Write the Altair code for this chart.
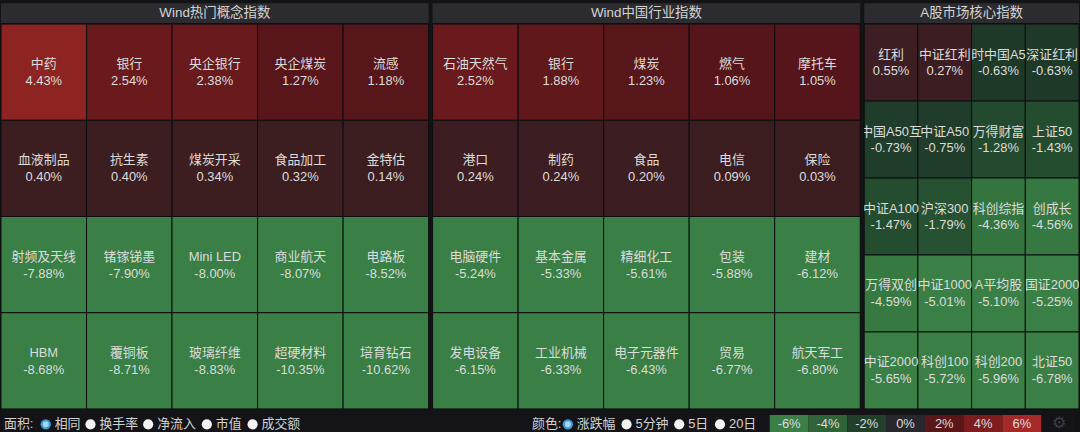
import altair as alt
import pandas as pd

# ---------------- data ----------------
p1_title = "Wind热门概念指数"
p1_names = ["中药", "银行", "央企银行", "央企煤炭", "流感",
            "血液制品", "抗生素", "煤炭开采", "食品加工", "金特估",
            "射频及天线", "锗镓锑墨", "Mini LED", "商业航天", "电路板",
            "HBM", "覆铜板", "玻璃纤维", "超硬材料", "培育钻石"]
p1_vals = [4.43, 2.54, 2.38, 1.27, 1.18,
           0.40, 0.40, 0.34, 0.32, 0.14,
           -7.88, -7.90, -8.00, -8.07, -8.52,
           -8.68, -8.71, -8.83, -10.35, -10.62]

p2_title = "Wind中国行业指数"
p2_names = ["石油天然气", "银行", "煤炭", "燃气", "摩托车",
            "港口", "制药", "食品", "电信", "保险",
            "电脑硬件", "基本金属", "精细化工", "包装", "建材",
            "发电设备", "工业机械", "电子元器件", "贸易", "航天军工"]
p2_vals = [2.52, 1.88, 1.23, 1.06, 1.05,
           0.24, 0.24, 0.20, 0.09, 0.03,
           -5.24, -5.33, -5.61, -5.88, -6.12,
           -6.15, -6.33, -6.43, -6.77, -6.80]

p3_title = "A股市场核心指数"
p3_names = ["红利", "中证红利", "时中国A5", "深证红利",
            "中国A50互", "中证A50", "万得财富", "上证50",
            "中证A100", "沪深300", "科创综指", "创成长",
            "万得双创", "中证1000", "A平均股", "国证2000",
            "中证2000", "科创100", "科创200", "北证50"]
p3_vals = [0.55, 0.27, -0.63, -0.63,
           -0.73, -0.75, -1.28, -1.43,
           -1.47, -1.79, -4.36, -4.56,
           -4.59, -5.01, -5.10, -5.25,
           -5.65, -5.72, -5.96, -6.78]

area_label = "面积:"
area_opts = ["相同", "换手率", "净流入", "市值", "成交额"]
color_label = "颜色:"
color_opts = ["涨跌幅", "5分钟", "5日", "20日"]
legend_labels = ["-6%", "-4%", "-2%", "0%", "2%", "4%", "6%"]

# ---------------- styles / layout ----------------
FONT = "Liberation Sans, Noto Sans CJK SC, sans-serif"
TXT = "#dcdcdc"
BG = "#131316"
HEADER_FILL = "#2c2c30"
legend_colors = ["#3c7f46", "#2f6338", "#213f29", "#27272d", "#5b1619", "#7e1d1d", "#a6292a"]
cell_domain = [-12, -5, -4.4, -1.3, -0.6, 0, 0.6, 1.0, 2.5, 4.5]
cell_range = ["#3a7f45", "#3a7f45", "#34763f", "#234b2e", "#1f3829",
              "#3b1d20", "#3d1e22", "#54151a", "#6a1a1c", "#8e2421"]
color_scale = alt.Scale(domain=cell_domain, range=cell_range, clamp=True, interpolate="rgb")

HEADER_H = 20
GRID_H = 387
BAR_H = 23

# bottom bar layout (pixel positions of UI controls)
area_label_x = 3
area_radio_x = [45, 90, 148, 207, 253]
area_text_x = [54, 99, 157, 216, 262]
color_label_x = 534
color_radio_x = [570, 629, 682, 723]
color_text_x = [579, 638, 691, 732]
legend_range = [773, 1046]
gear_x = 1064


def make_table(names, vals, ncols):
    return pd.DataFrame({
        "name": names,
        "val": vals,
        "pct": [f"{v:.2f}%" for v in vals],
        "row": [i // ncols for i in range(len(names))],
        "col": [i % ncols for i in range(len(names))],
    })


def panel(title, names, vals, ncols, width):
    df = make_table(names, vals, ncols)
    hdr_df = pd.DataFrame({"title": [title]})
    hx = alt.X("title:N", axis=None, scale=alt.Scale(paddingInner=0, paddingOuter=0))
    header = alt.layer(
        alt.Chart(hdr_df).mark_rect(fill=HEADER_FILL).encode(x=hx),
        alt.Chart(hdr_df).mark_text(font=FONT, fontSize=13.5, color="#d4d4d4",
                                    baseline="middle").encode(x=hx, text="title:N"),
    ).properties(width=width, height=HEADER_H)

    x = alt.X("col:O", axis=None, scale=alt.Scale(paddingInner=0, paddingOuter=0))
    y = alt.Y("row:O", axis=None, scale=alt.Scale(paddingInner=0, paddingOuter=0))
    base = alt.Chart(df)
    rects = base.mark_rect(stroke="#0d0d0f", strokeWidth=1).encode(
        x=x, y=y, fill=alt.Fill("val:Q", scale=color_scale, legend=None))
    names_t = base.mark_text(font=FONT, fontSize=13, color=TXT, dy=-8,
                             baseline="middle", clip=True).encode(x=x, y=y, text="name:N")
    pct_t = base.mark_text(font=FONT, fontSize=13, color=TXT, dy=9,
                           baseline="middle", clip=True).encode(x=x, y=y, text="pct:N")
    grid = alt.layer(rects, names_t, pct_t).properties(width=width, height=GRID_H)
    return alt.vconcat(header, grid, spacing=0)


top = alt.hconcat(
    panel(p1_title, p1_names, p1_vals, 5, 430),
    panel(p2_title, p2_names, p2_vals, 5, 430),
    panel(p3_title, p3_names, p3_vals, 4, 216),
    spacing=2,
)

# ---------------- bottom control bar ----------------
texts_df = pd.DataFrame({
    "t": [area_label] + area_opts + [color_label] + color_opts,
    "x": [area_label_x] + area_text_x + [color_label_x] + color_text_x,
})
radio_df = pd.DataFrame({
    "x": area_radio_x + color_radio_x,
    "sel": [1] + [0] * (len(area_opts) - 1) + [1] + [0] * (len(color_opts) - 1),
})
legend_df = pd.DataFrame({"lab": legend_labels})
gear_df = pd.DataFrame({"x": [gear_x], "g": ["⚙"]})

qx = alt.Scale(domain=[0, 1080], range=[0, 1080])
bar_bg = alt.Chart(gear_df).mark_rect(fill="#141418").encode(
    x=alt.value(0), x2=alt.value(1080), y=alt.value(0), y2=alt.value(BAR_H))
bar_text = alt.Chart(texts_df).mark_text(font=FONT, fontSize=13, color="#d2d2d2",
                                         align="left", baseline="middle").encode(
    x=alt.X("x:Q", scale=qx, axis=None), y=alt.value(14.5), text="t:N")
radio_off = alt.Chart(radio_df).transform_filter("datum.sel == 0").mark_point(
    filled=True, shape="circle", size=105, color="#f2f2f2", opacity=1).encode(
    x=alt.X("x:Q", scale=qx, axis=None), y=alt.value(14.5))
radio_on = alt.Chart(radio_df).transform_filter("datum.sel == 1").mark_point(
    filled=True, shape="circle", size=110, color="#3a98d6", opacity=1).encode(
    x=alt.X("x:Q", scale=qx, axis=None), y=alt.value(14.5))
radio_in = alt.Chart(radio_df).transform_filter("datum.sel == 1").mark_point(
    filled=True, shape="circle", size=38, color="#a6d6f0", opacity=1).encode(
    x=alt.X("x:Q", scale=qx, axis=None), y=alt.value(14.5))
lx = alt.X("lab:O", axis=None, sort=legend_labels,
           scale=alt.Scale(domain=legend_labels, range=legend_range, paddingInner=0, paddingOuter=0))
leg_rect = alt.Chart(legend_df).mark_rect().encode(
    x=lx, y=alt.value(5), y2=alt.value(BAR_H),
    fill=alt.Fill("lab:N", scale=alt.Scale(domain=legend_labels, range=legend_colors), legend=None))
leg_text = alt.Chart(legend_df).mark_text(font=FONT, fontSize=13, color="#dcdcdc",
                                          baseline="middle").encode(
    x=lx, y=alt.value(14.5), text="lab:N")
gear = alt.Chart(gear_df).mark_text(font="DejaVu Sans", fontSize=16, color="#3e3e44",
                                    baseline="middle").encode(
    x=alt.X("x:Q", scale=qx, axis=None), y=alt.value(13), text="g:N")

bar = alt.layer(bar_bg, bar_text, radio_off, radio_on, radio_in, leg_rect, leg_text, gear).resolve_scale(
    x="independent", fill="independent").properties(width=1080, height=BAR_H)

chart = alt.vconcat(top, bar, spacing=0).properties(
    padding={"top": 2, "left": 0, "right": 0, "bottom": 0},
    background=BG,
).configure_view(strokeWidth=0).resolve_scale(fill="independent")

chart.save("out.html", embed_options={"renderer": "svg", "actions": False})
